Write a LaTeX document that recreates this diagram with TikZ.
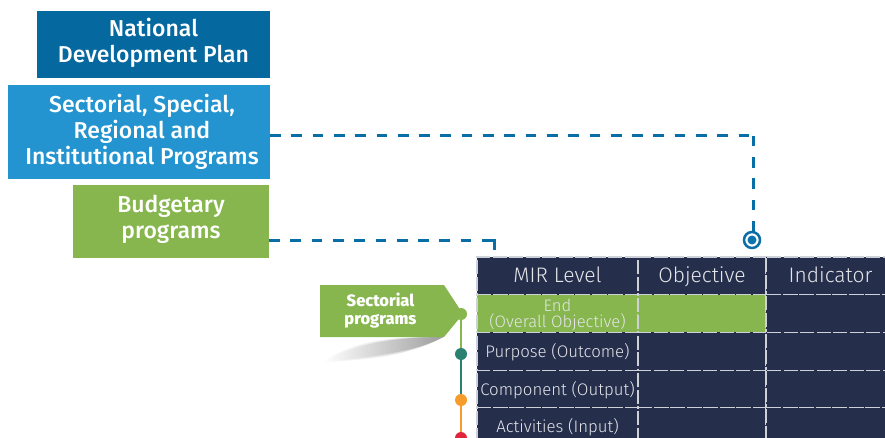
\documentclass[tikz,border=0pt]{standalone}
\usepackage{fontspec}
\setmainfont{Fira Sans Medium}
\newfontfamily\lightfont{Fira Sans Light}
\newfontfamily\heavyfont{Fira Sans ExtraBold}
\usetikzlibrary{positioning}
\definecolor{planblue}{HTML}{05689F}
\definecolor{sectblue}{HTML}{2394CF}
\definecolor{budgreen}{HTML}{86B64D}
\definecolor{navy}{HTML}{252F4C}
\definecolor{dashblue}{HTML}{0A6EA6}
\definecolor{tealdot}{HTML}{2A8071}
\definecolor{orangedot}{HTML}{F59C2B}
\definecolor{reddot}{HTML}{E0263C}
\newcommand{\nudge}{\hspace*{6pt}}
\begin{document}
\begin{tikzpicture}[
  x=1pt, y=-1pt,
  every node/.style = {align=center, inner sep=0pt, outer sep=0pt},
  planbox/.style = {anchor=north west, text=white, font=\fontsize{23}{26}\selectfont},
  cell/.style = {anchor=north west, fill=navy, draw=white!78!navy, dash pattern=on 14pt off 2.5pt,
    line width=1.2pt, text=white!88!navy, font=\lightfont\fontsize{16.8}{19}\selectfont,
    text height=16pt, text depth=3.5pt, minimum width=#1, minimum height=37.7pt},
  cell/.default = 161pt,
  head/.style = {cell=#1, font=\lightfont\fontsize{21}{23}\selectfont, text height=18pt, text depth=4pt},
  greencell/.style = {cell=#1, fill=budgreen},
  link/.style = {dashblue, line width=3pt, dash pattern=on 10.7pt off 10.6pt},
  stem/.style = {line width=2.5pt},
  dot/.style = {circle, minimum size=12pt}]
  \useasboundingbox (0,0) rectangle (885,438);

  % boxes on the left
  \node[planbox, fill=planblue, minimum width=233pt, minimum height=67pt, text depth=8.5pt] (plan) at (37,11)
    {National\\Development Plan};
  \node[planbox, fill=sectblue, minimum width=262pt, minimum height=94pt] (sectoral) at (8,85)
    {\nudge Sectorial, Special,\\\nudge Regional and\\\nudge Institutional Programs};
  \node[planbox, fill=budgreen, minimum width=196pt, minimum height=73pt, text depth=9.5pt] (budget) at (73,185)
    {Budgetary\\programs};

  % flag with its shadow
  \foreach \grow/\tone in {5/12,3/20,1/28,0/38}
    \shade[left color=white, right color=black!\tone, shading angle=90]
      (323,362) .. controls (355,343-\grow) and (400,337) .. (443,337)
      .. controls (425,347) and (395,355+\grow) .. (323,362) -- cycle;
  \fill[budgreen] (320,285) -- (444,285) -- (463,314) -- (444,337) -- (320,337) -- cycle;
  \node[text=white, font=\heavyfont\fontsize{16.5}{18.5}\selectfont] (flag) at (380.5,310.5) {Sectorial\\programs};

  % table
  \node[head=161pt] (level) at (477,257) {MIR Level};
  \node[head=128pt] (objective) at (638,257) {Objective};
  \node[head=129pt] (indicator) at (766,257) {Indicator};
  \node[greencell=161pt] (endrow) at (477,294.7) {};
  \node[greencell=128pt] (endobj) at (638,294.7) {};
  \node[cell=129pt] (endind) at (766,294.7) {};
  \node[cell] (purpose) at (477,332.4) {Purpose (Outcome)};
  \node[cell=128pt] (purposeobj) at (638,332.4) {};
  \node[cell=129pt] (purposeind) at (766,332.4) {};
  \node[cell] (component) at (477,370.1) {Component (Output)};
  \node[cell=128pt] (componentobj) at (638,370.1) {};
  \node[cell=129pt] (componentind) at (766,370.1) {};
  \node[cell] (activities) at (477,407.8) {Activities (Input)};
  \node[cell=128pt] (activitiesobj) at (638,407.8) {};
  \node[cell=129pt] (activitiesind) at (766,407.8) {};
  \node[text=white!88!navy, font=\lightfont\fontsize{16.6}{16}\selectfont] (endtext) at (557.5,315.5)
    {End\\(Overall Objective)};

  % timeline
  \node[dot, fill=budgreen] (d1) at (461,314) {};
  \node[dot, fill=tealdot] (d2) at (461,354) {};
  \node[dot, fill=orangedot] (d3) at (461,400) {};
  \node[dot, fill=reddot] (d4) at (461,438) {};
  \draw[stem, budgreen] (d1) -- (d2);
  \draw[stem, tealdot] (d2) -- (d3);
  \draw[stem, orangedot] (d3) -- (d4);

  % dashed links
  \node[circle, draw=dashblue, line width=2.5pt, fill=white, minimum size=16pt] (target) at (752,240) {};
  \node[circle, fill=dashblue!85!sectblue, minimum size=9pt] (bull) at (752,240) {};
  \coordinate (sectcorner) at (753.3,135.7);
  \coordinate (budgturn) at (483,240);
  \coordinate (budgend) at (494,250);
  \draw[link] (sectoral.east |- sectcorner) -- (sectcorner);
  \draw[link] (sectcorner) -- (sectcorner |- target.north);
  \draw[link] (budget.east |- budgturn) -- (budgturn);
  \draw[dashblue, line width=3pt] (budgturn) -| (budgend);
\end{tikzpicture}
\end{document}
